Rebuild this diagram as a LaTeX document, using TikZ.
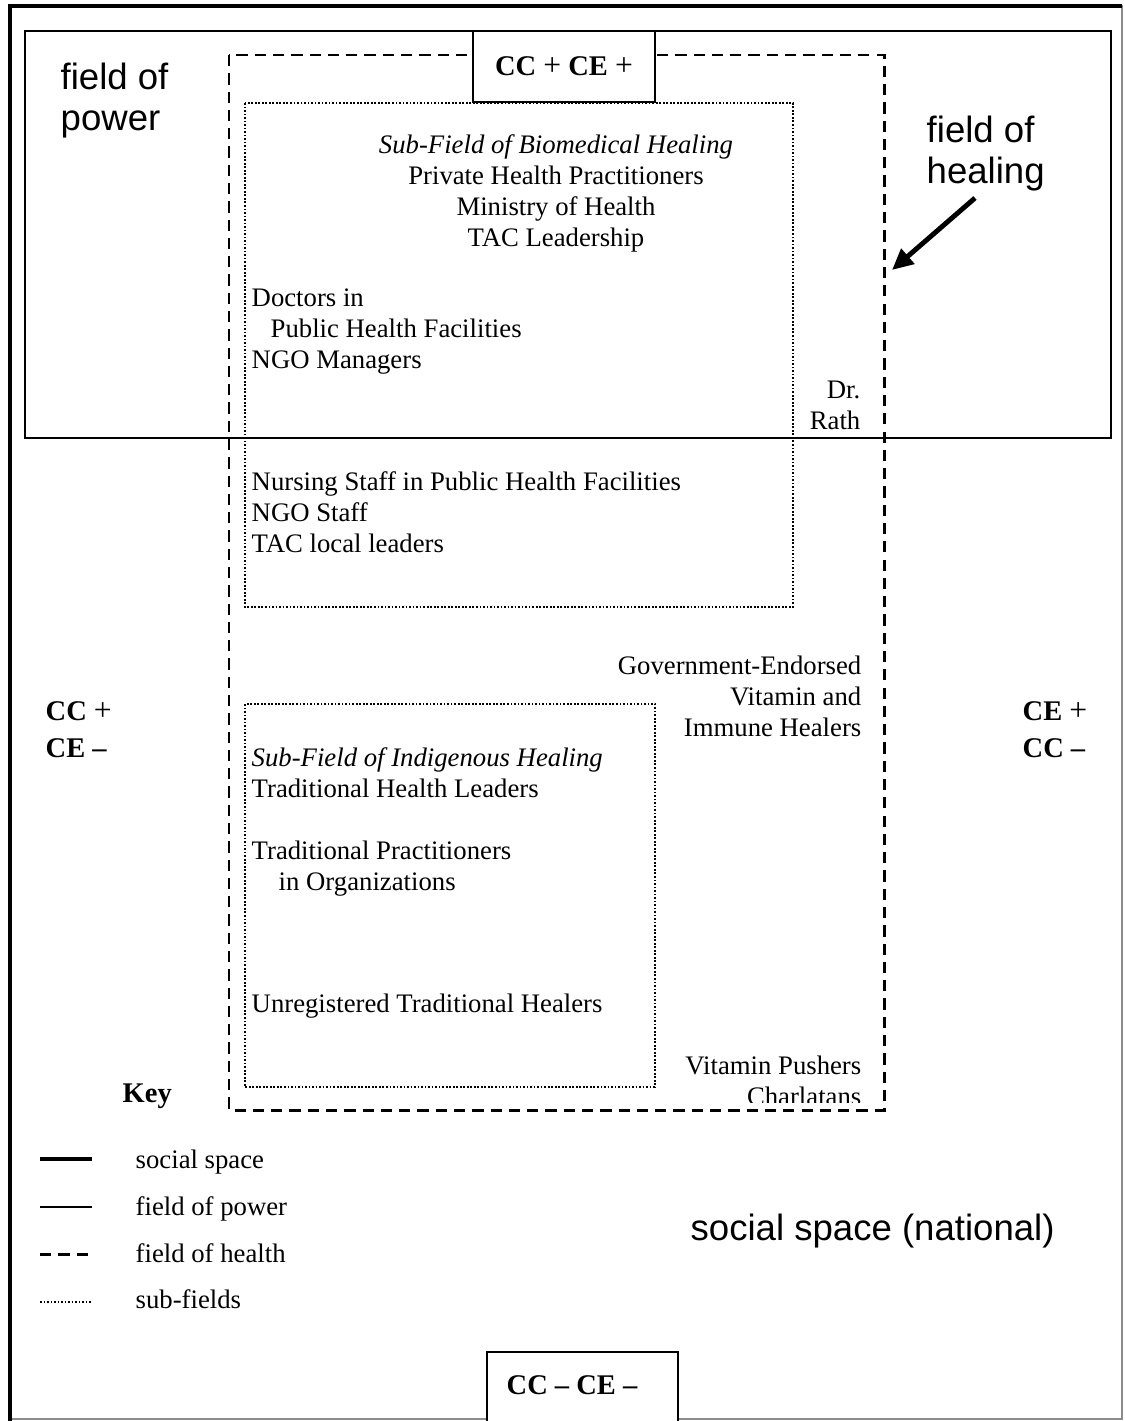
\documentclass[tikz,border=0pt]{standalone}
\usepackage{fontspec}
\setmainfont{Liberation Serif}
\newfontfamily\labelsans{Liberation Sans}
\usetikzlibrary{arrows.meta}
\tikzset{
  socialspace/.style = {line width=1.3pt},
  socialedge/.style  = {line width=0.4pt, black!45},
  powerfield/.style  = {line width=0.6pt},
  healthfield/.style = {line width=0.85pt, dash pattern=on 3.2pt off 2pt},
  subfield/.style    = {line width=0.6pt, dash pattern=on 0.5pt off 0.5pt},
  actor/.style       = {font=\fontsize{7.6pt}{8.8pt}\selectfont, inner sep=0pt},
  capital/.style     = {font=\fontsize{8.1pt}{10.5pt}\selectfont\bfseries, inner sep=0pt, align=left},
  fieldlab/.style    = {font=\labelsans\fontsize{10.4pt}{11.4pt}\selectfont, inner sep=0pt, align=left},
}
\newcommand{\pl}{{\mdseries\fontsize{9pt}{9pt}\selectfont +}}
\newcommand{\mi}{{\bfseries –}}

\begin{document}
\begin{tikzpicture}[x=0.01cm, y=-0.01cm]
\useasboundingbox (0,0) rectangle (1124,1421);
% social space
\draw[socialedge] (10,6) rectangle (1122,1419);
\draw[socialspace] (10,1425) -- (10,6) -- (1122,6);
% field of power and field of health
\draw[powerfield] (25,31) rectangle (1111,438);
\draw[healthfield] (229,55) rectangle (884,1110);
% sub-fields
\draw[subfield] (245,103) rectangle (793,607);
\draw[subfield] (245,704) rectangle (655,1087);
% poles
\node[capital, draw, powerfield, fill=white, minimum width=1.82cm, minimum height=0.71cm] (north) at (564,66.5) {CC \pl{} CE \pl};
\draw[powerfield, fill=white] (487,1425) -- (487,1352) -- (678,1352) -- (678,1425);
\node[capital, anchor=base] (south) at (572,1394) {CC \mi{} CE \mi};
\node[capital, anchor=base west] (west) at (45,757) {CC \pl\\CE \mi};
\node[capital, anchor=base west] (east) at (1022,757) {CE \pl\\CC \mi};

\node[fieldlab, anchor=base west] (power) at (60,130) {field of\\power};
\node[fieldlab, anchor=base west] (healing) at (926,183) {field of\\healing};
\node[fieldlab, anchor=base west] (national) at (690,1240) {social space (national)};
\coordinate (arrowtail) at (975,198);
\coordinate (arrowtip) at (892,270);
\draw[line width=1.4pt, -{Triangle[length=6pt, width=5.5pt]}] (arrowtail) -- (arrowtip);

% biomedical healing
\node[actor, align=center, anchor=base] (biomed) at (556,246)
  {\textit{Sub-Field of Biomedical Healing}\\Private Health Practitioners\\Ministry of Health\\TAC Leadership};
\node[actor, align=left, anchor=base west] (doctors) at (251,368)
  {Doctors in\\\hspace*{0.19cm}Public Health Facilities\\NGO Managers};
\node[actor, align=right, anchor=base east] (rath) at (861,429) {Dr.\\Rath};
\node[actor, align=left, anchor=base west] (nursing) at (251,552)
  {Nursing Staff in Public Health Facilities\\NGO Staff\\TAC local leaders};
\node[actor, align=right, anchor=base east] (vitamin) at (862,736)
  {Government-Endorsed\\Vitamin and\\Immune Healers};

% indigenous healing
\node[actor, align=left, anchor=base west] (indig) at (251,797)
  {\textit{Sub-Field of Indigenous Healing}\\Traditional Health Leaders};
\node[actor, align=left, anchor=base west] (tradorg) at (251,890)
  {Traditional Practitioners\\\hspace*{0.27cm}in Organizations};
\node[actor, anchor=base west] (unreg) at (251,1012) {Unregistered Traditional Healers};
\begin{scope}
\clip (600,1040) rectangle (880,1102);
\node[actor, align=right, anchor=base east] (pushers) at (862,1105) {Vitamin Pushers\\Charlatans};
\end{scope}

% key
\node[capital, anchor=base west] (key) at (122,1102) {Key};
\draw[socialspace] (40,1159) -- (92,1159);
\draw[powerfield] (40,1207) -- (92,1207);
\draw[healthfield] (40,1254) -- (92,1254);
\draw[subfield] (40,1302) -- (92,1302);
\node[actor, anchor=base west] (keysocial) at (135,1168) {social space};
\node[actor, anchor=base west] (keypower) at (135,1215) {field of power};
\node[actor, anchor=base west] (keyhealth) at (135,1262) {field of health};
\node[actor, anchor=base west] (keysub) at (135,1308) {sub-fields};
\end{tikzpicture}
\end{document}
